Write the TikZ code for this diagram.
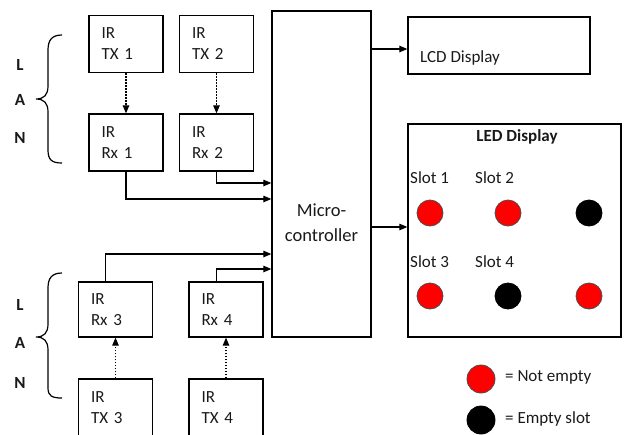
\documentclass[tikz,border=0pt]{standalone}
\usepackage{fontspec}
\setmainfont{Carlito}
\usetikzlibrary{arrows.meta}
\begin{document}
\begin{tikzpicture}[x=1pt,y=-1pt,
  every node/.style={font=\fontsize{17}{21}\selectfont, text=black!90},
  blk/.style={draw, line width=1.3pt, inner sep=0pt},
  irbox/.style={blk, minimum width=74pt, minimum height=57pt, text width=49pt, align=left},
  lbl/.style={inner sep=0pt, anchor=west},
  lan/.style={inner sep=0pt, font=\fontsize{17}{21}\selectfont\bfseries},
  arr/.style={line width=1.2pt, -{Triangle[length=8pt,width=6.5pt]}},
  dotarr/.style={line width=1.2pt, dash pattern=on 1.5pt off 1.5pt, -{Triangle[length=8pt,width=6.5pt]}},
  brace/.style={line width=1.2pt},
  fullc/.style={fill=red, draw=black!70, line width=0.8pt},
  emptyc/.style={fill=black, draw=black, line width=0.8pt}
]
\useasboundingbox (0,0) rectangle (624,434);
\clip (0,0) rectangle (624,434);

% IR boxes
\node[irbox] (tx1) at (126,44) {IR\\TX 1};
\node[irbox] (tx2) at (216.5,44) {IR\\TX 2};
\node[irbox] (rx1) at (126,142.5) {IR\\Rx 1};
\node[irbox] (rx2) at (216.5,142.5) {IR\\Rx 2};
\node[irbox, minimum height=55pt] (rx3) at (115.5,309.5) {IR\\Rx 3};
\node[irbox, minimum height=55pt] (rx4) at (226,309.5) {IR\\Rx 4};
\node[irbox, minimum height=58pt] (tx3) at (115.5,408) {IR\\TX 3};
\node[irbox, minimum height=58pt] (tx4) at (226,408) {IR\\TX 4};

% microcontroller
\node[blk, minimum width=99pt, minimum height=326pt] (micro) at (321.5,174) {};
\node[inner sep=0pt, align=center, font=\fontsize{18.5}{25}\selectfont] (microtxt) at (321.5,222.5) {Micro-\\controller};

% LCD
\node[blk, minimum width=182pt, minimum height=57pt] (lcd) at (499,45.5) {};
\node[lbl] (lcdtxt) at (420,58) {LCD Display};

% LED
\node[blk, minimum width=213pt, minimum height=213pt] (led) at (514.5,230.5) {};
\node[inner sep=0pt, font=\fontsize{17}{21}\selectfont\bfseries] (ledtxt) at (517,137) {LED Display};
\node[lbl] (s1) at (410,178) {Slot 1};
\node[lbl] (s2) at (475,178) {Slot 2};
\node[lbl] (s3) at (410,262) {Slot 3};
\node[lbl] (s4) at (475,262) {Slot 4};
\draw[fullc] (430,213) circle[radius=13];
\draw[fullc] (508,213) circle[radius=13];
\draw[emptyc] (589,213) circle[radius=13];
\draw[fullc] (430,296) circle[radius=13];
\draw[emptyc] (508,296) circle[radius=13];
\draw[fullc] (589,296) circle[radius=13];

% legend
\draw[fullc] (481,379) circle[radius=14];
\draw[emptyc] (481,420) circle[radius=14];
\node[lbl] (lg1) at (505,377) {= Not empty};
\node[lbl] (lg2) at (505,419) {= Empty slot};

% LAN labels and braces
\node[lan] (l1) at (20,65) {L};
\node[lan] (a1) at (20,100) {A};
\node[lan] (n1) at (20,138) {N};
\node[lan] (l2) at (20,305) {L};
\node[lan] (a2) at (20,343) {A};
\node[lan] (n2) at (20,383) {N};
\draw[brace] (62,35) .. controls (52,35) and (48,40) .. (48,50) -- (48,86)
  .. controls (48,95) and (44,99) .. (36,99) .. controls (44,99) and (48,103) .. (48,112)
  -- (48,150) .. controls (48,160) and (52,163) .. (62,163);
\draw[brace] (62,273) .. controls (52,273) and (48,278) .. (48,288) -- (48,324)
  .. controls (48,333) and (44,337) .. (36,337) .. controls (44,337) and (48,341) .. (48,350)
  -- (48,388) .. controls (48,396) and (52,398) .. (62,398);

% IR links
\draw[dotarr] (tx1) -- (rx1);
\draw[dotarr] (tx2) -- (rx2);
\draw[dotarr] (tx3) -- (rx3);
\draw[dotarr] (tx4) -- (rx4);

% y levels
\coordinate (y183) at (0,183);
\coordinate (y199) at (0,199);
\coordinate (y254) at (0,254);
\coordinate (y269) at (0,269);
\coordinate (y49) at (0,49);
\coordinate (y227) at (0,227);

\draw[arr] (rx1.south) |- (micro.west |- y199);
\draw[arr] (rx2.south) |- (micro.west |- y183);
\draw[arr] ([xshift=28pt]rx3.north west) |- (micro.west |- y254);
\draw[arr] ([xshift=28pt]rx4.north west) |- (micro.west |- y269);
\draw[arr] (micro.east |- y49) -- (lcd.west |- y49);
\draw[arr] (micro.east |- y227) -- (led.west |- y227);
\end{tikzpicture}
\end{document}
